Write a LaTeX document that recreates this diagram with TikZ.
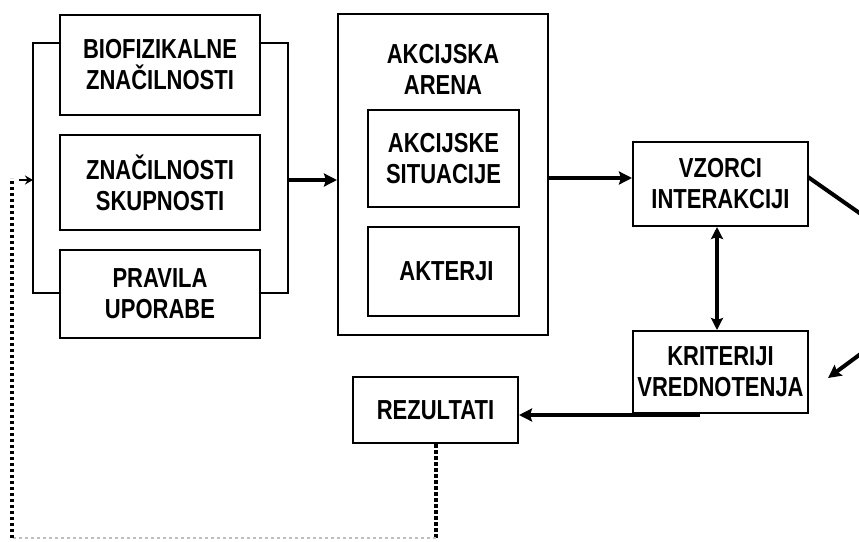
\documentclass[tikz,border=0pt]{standalone}
\usepackage{fontspec}
\newfontfamily\labfont[FakeStretch=0.8]{Liberation Sans}
\usetikzlibrary{arrows.meta}
\begin{document}
\begin{tikzpicture}[x=1pt,y=-1pt,
  box/.style={draw=black, line width=2pt, align=center, inner sep=0pt,
    font=\labfont\bfseries\fontsize{27.5}{31}\selectfont},
  lbl/.style={align=center, inner sep=0pt, font=\labfont\bfseries\fontsize{27.5}{31}\selectfont},
  bracket/.style={draw=black, line width=2.5pt},
  arr/.style={draw=black, line width=4pt, -{Stealth[length=13pt,width=13pt,inset=2pt]}},
  darr/.style={draw=black, line width=3.5pt, {Stealth[length=12pt,width=12pt,inset=2pt]}-{Stealth[length=12pt,width=12pt,inset=2pt]}},
  dots/.style={draw=black, line width=4.5pt, dash pattern=on 3.5pt off 2.5pt},
  faintdots/.style={draw=black!25, line width=2pt, dash pattern=on 3pt off 3pt}
]
\useasboundingbox (0,0) rectangle (859,541);

% left group
\node[box, minimum width=200pt, minimum height=100pt] (b1) at (160,65) {BIOFIZIKALNE\\ZNAČILNOSTI};
\node[box, minimum width=200pt, minimum height=95pt] (b2) at (160,182.5) {ZNAČILNOSTI\\SKUPNOSTI};
\node[box, minimum width=200pt, minimum height=88pt] (b3) at (160,294) {PRAVILA\\UPORABE};

% bracket
\coordinate (lt) at (33,43);
\coordinate (lb) at (33,293);
\coordinate (rt) at (288,43);
\coordinate (rb) at (288,293);
\coordinate (lm) at (33,180);
\coordinate (rm) at (288,180);
\draw[bracket] (b1.west |- lt) -- (lt) -- (lb) -- (b3.west |- lb);
\draw[bracket] (b1.east |- rt) -- (rt) -- (rb) -- (b3.east |- rb);

% arena
\node[box, minimum width=210pt, minimum height=321pt] (arena) at (443,174.5) {};
\node[lbl] (arenat) at (443,69) {AKCIJSKA\\ARENA};
\node[box, minimum width=151pt, minimum height=97pt] (sit) at (443.5,158.5) {AKCIJSKE\\SITUACIJE};
\node[box, minimum width=151pt, minimum height=89pt] (akt) at (443.5,271.5) {\hspace{6pt}AKTERJI};

% right boxes
\node[box, minimum width=175pt, minimum height=84pt] (vz) at (720.5,184) {VZORCI\\INTERAKCIJI};
\node[box, minimum width=175pt, minimum height=82pt] (kr) at (720.5,372) {KRITERIJI\\VREDNOTENJA};
\node[box, minimum width=165pt, minimum height=66pt] (rez) at (435.5,410) {REZULTATI};

% arrows
\draw[arr] (rm) -- (arena.west |- rm);
\coordinate (am) at (548,178);
\draw[arr] (arena.east |- am) -- (vz.west |- am);
\coordinate (dx) at (717,0);
\draw[darr] (vz.south -| dx) -- (kr.north -| dx);

% off-canvas loop on the right
\coordinate (off) at (958,282);
\coordinate (ve) at (808,177);
\coordinate (kt) at (828,378);
\begin{scope}
\clip (0,0) rectangle (859,541);
\draw[draw=black, line width=4pt] (ve) -- (off);
\draw[arr] (off) -- (kt);
\end{scope}

% criteria to results
\coordinate (ks) at (700,415);
\draw[arr] (ks) -- (rez.east |- ks);

% dotted feedback
\coordinate (d1) at (436,538);
\coordinate (d2) at (12,538);
\coordinate (d3) at (12,178);
\draw[dots] (rez.south -| d1) -- (d1);
\draw[faintdots] (d1) -- (d2);
\draw[dots] (d2) -- (d3);
\draw[draw=black, line width=2.5pt, -{Stealth[length=8pt,width=9pt]}] (19,180) -- (lm);
\end{tikzpicture}
\end{document}
